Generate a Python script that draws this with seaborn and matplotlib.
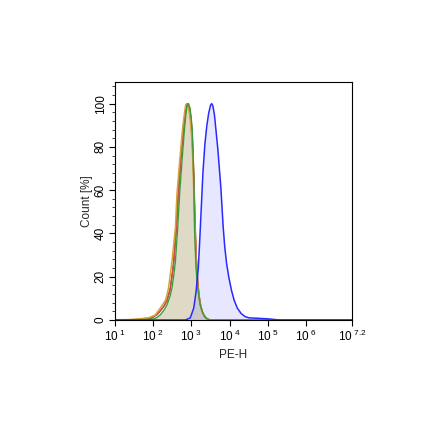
import numpy as np
import matplotlib
matplotlib.use("Agg")
import matplotlib.pyplot as plt
import seaborn as sns
from matplotlib.ticker import FixedLocator, MultipleLocator, LogLocator, NullFormatter

# Histogram curves: x in log10(PE-H), y in Count [%]
blue_log = [1.0, 2.6, 2.84, 2.97, 3.06, 3.12, 3.18, 3.22, 3.26, 3.30, 3.35, 3.40, 3.45, 3.50,
            3.53, 3.56, 3.60, 3.64, 3.69, 3.73, 3.77, 3.80, 3.83, 3.87, 3.92, 3.98, 4.05,
            4.12, 4.20, 4.30, 4.40, 4.50, 4.73, 5.03, 5.3, 7.2]
blue_pct = [0, 0, 0, 1, 5.5, 13, 24, 38, 53, 68, 81, 89.5, 95.5, 99.3,
            100, 99, 95, 88, 79, 70, 61, 52, 43, 34, 26, 19.5, 13.5,
            9, 5.5, 3, 1.6, 1.0, 0.8, 0.5, 0, 0]

green_log = [1.0, 1.5, 1.9, 2.01, 2.1, 2.18, 2.28, 2.36, 2.44, 2.49, 2.54, 2.58, 2.64, 2.69, 2.75,
             2.82, 2.86, 2.89, 2.92, 2.96, 2.99, 3.02, 3.04, 3.06, 3.07, 3.08, 3.10, 3.12, 3.15,
             3.19, 3.23, 3.28, 3.34, 3.41, 3.5, 7.2]
green_pct = [0, 0.1, 0.3, 0.5, 1.2, 2.3, 4.5, 7, 11, 14.8, 21, 27, 42.6, 58, 73,
             88.7, 96, 99.5, 100, 98, 94, 88, 78, 66, 55, 43, 33, 24, 17,
             11.5, 7, 4, 1.8, 0.5, 0, 0]

red_log = [1.0, 1.5, 1.85, 2.0, 2.12, 2.22, 2.30, 2.36, 2.45, 2.54, 2.61, 2.66, 2.72, 2.80,
           2.85, 2.88, 2.91, 2.95, 2.99, 3.02, 3.05, 3.07, 3.09, 3.11, 3.13, 3.16, 3.20, 3.25,
           3.30, 3.36, 3.43, 3.5, 7.2]
red_pct = [0, 0.2, 0.8, 1.5, 3, 5, 7, 9, 15, 27, 43, 58, 73, 89,
           96, 99.5, 100, 98, 93, 86, 74, 62, 50, 38, 28, 19, 11, 6,
           3, 1.2, 0.3, 0, 0]

orange_log = [1.0, 1.53, 1.88, 2.05, 2.18, 2.26, 2.33, 2.40, 2.49, 2.58, 2.62, 2.69, 2.77,
              2.82, 2.85, 2.88, 2.92, 2.96, 3.0, 3.03, 3.05, 3.07, 3.09, 3.11, 3.14, 3.18,
              3.23, 3.29, 3.36, 3.43, 3.5, 7.2]
orange_pct = [0, 0.3, 1, 2.3, 5.4, 7.5, 9.5, 14.8, 27, 42.6, 58, 73, 89,
              96, 99.5, 100, 98, 94, 86, 76, 65, 53, 42, 32, 22, 13,
              7, 3.5, 1.5, 0.4, 0, 0]

brown_log = [1.0, 1.6, 1.95, 2.1, 2.2, 2.28, 2.36, 2.44, 2.52, 2.59, 2.64, 2.70, 2.78,
             2.84, 2.87, 2.90, 2.94, 2.98, 3.01, 3.04, 3.06, 3.08, 3.10, 3.12, 3.15, 3.19,
             3.24, 3.30, 3.36, 3.43, 3.5, 7.2]
brown_pct = [0, 0.2, 0.8, 2.5, 4.5, 6.5, 9, 14, 24, 40, 55, 71, 88,
             96, 99.5, 100, 98, 93, 86, 76, 65, 53, 41, 31, 21, 12.5,
             6.5, 3, 1.3, 0.3, 0, 0]

x_ticks_log = [1, 2, 3, 4, 5, 6, 7.2]
x_tick_labels = [r"$10^{\ 1}$", r"$10^{\ 2}$", r"$10^{\ 3}$", r"$10^{\ 4}$", r"$10^{\ 5}$",
                 r"$10^{\ 6}$", r"$10^{\ 7.2}$"]

sns.set_style("ticks")
plt.rcParams["font.family"] = ["Liberation Sans", "DejaVu Sans"]
plt.rcParams["mathtext.fontset"] = "custom"
plt.rcParams["mathtext.rm"] = "Liberation Sans"
plt.rcParams["mathtext.default"] = "regular"

fig = plt.figure(figsize=(4.4, 4.4), dpi=100)
ax = fig.add_axes([115 / 440, 120 / 440, 237 / 440, 238 / 440])

to_lin = lambda v: 10 ** np.asarray(v, dtype=float)

# filled histograms
ax.fill_between(to_lin(green_log), green_pct, color="#8c7d33", alpha=0.28, linewidth=0)
ax.fill_between(to_lin(blue_log), blue_pct, color="#4b4bff", alpha=0.13, linewidth=0)

sns.lineplot(x=to_lin(brown_log), y=brown_pct, ax=ax, color="#8b4a1c", lw=1.0, sort=False)
sns.lineplot(x=to_lin(red_log), y=red_pct, ax=ax, color="#c9504a", lw=1.0, sort=False)
sns.lineplot(x=to_lin(orange_log), y=orange_pct, ax=ax, color="#d9a23a", lw=1.1, sort=False)
sns.lineplot(x=to_lin(green_log), y=green_pct, ax=ax, color="#3b9a3b", lw=1.0, sort=False)
sns.lineplot(x=to_lin(blue_log), y=blue_pct, ax=ax, color="#2a2aff", lw=1.1, sort=False)

ax.set_xscale("log")
ax.set_xlim(10, 10 ** 7.2)
ax.set_ylim(0, 110)
ax.xaxis.set_major_locator(FixedLocator(to_lin(x_ticks_log)))
ax.set_xticklabels(x_tick_labels)
ax.xaxis.set_minor_locator(LogLocator(base=10, subs=np.arange(2, 10)))
ax.xaxis.set_minor_formatter(NullFormatter())
ax.yaxis.set_major_locator(FixedLocator([0, 20, 40, 60, 80, 100]))
ax.yaxis.set_minor_locator(MultipleLocator(4))

for s in ax.spines.values():
    s.set_visible(True)
    s.set_linewidth(0.8)
    s.set_color("black")

ax.tick_params(axis="both", which="major", direction="out", length=4, width=0.8,
               labelsize=8.5, colors="black")
ax.tick_params(axis="both", which="minor", direction="out", length=2, width=0.6)
ax.tick_params(axis="x", pad=2)
ax.tick_params(axis="y", pad=2)
plt.setp(ax.get_yticklabels(), rotation=90, va="center")

ax.set_xlabel("PE-H", fontsize=8.5, labelpad=4)
ax.set_ylabel("Count [%]", fontsize=8.5, labelpad=1)

fig.savefig("out.png", dpi=100)
